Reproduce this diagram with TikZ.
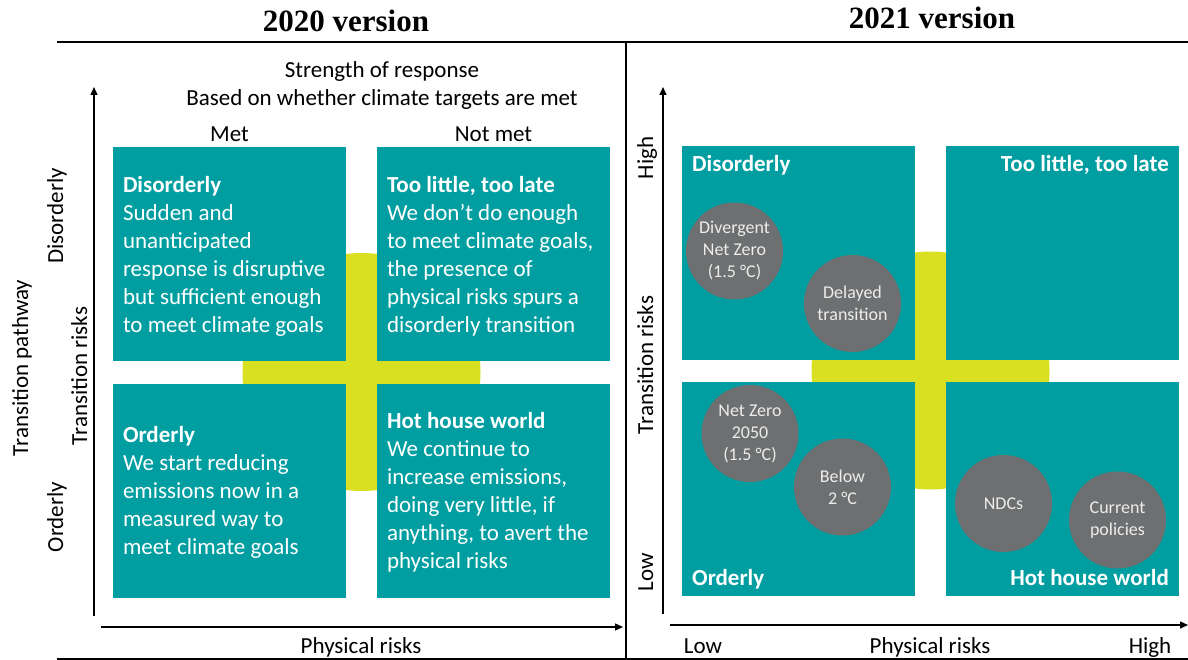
\documentclass[tikz,border=0pt]{standalone}
\usepackage{fontspec}
\setmainfont{Carlito}
\newfontfamily\titlefont{Liberation Serif}
\usetikzlibrary{arrows.meta,positioning}
\definecolor{quadteal}{RGB}{0,158,161}
\definecolor{crosslime}{RGB}{217,224,33}
\definecolor{scengrey}{RGB}{109,111,113}
\tikzset{%
  quad/.style     = {fill=quadteal, minimum width=233pt, minimum height=214pt,%
                     inner sep=0pt},%
  blob/.style     = {circle, fill=crosslime, minimum size=238pt, inner sep=0pt},%
  quadtext/.style = {text=white, align=left, anchor=west, inner sep=0pt, yshift=-2pt,%
                     font=\fontsize{23}{28}\selectfont},%
  corner/.style   = {text=white, inner sep=0pt, font=\fontsize{23}{28}\selectfont\bfseries},%
  scen/.style     = {circle, fill=scengrey, minimum size=97pt, inner sep=0pt,%
                     align=center, text=white!93!black, font=\fontsize{18}{22}\selectfont},%
  lbl/.style      = {inner sep=0pt, font=\fontsize{23}{28}\selectfont},%
  title/.style    = {inner sep=0pt, font=\titlefont\fontsize{31}{36}\selectfont\bfseries},%
  axis/.style     = {line width=1.4pt, -{Triangle[length=8pt,width=7pt]}},%
  rule/.style     = {line width=2pt}%
}
\begin{document}
\begin{tikzpicture}[x=1pt, y=-1pt]%
	\useasboundingbox (0,0) rectangle (1188,660);
	% frame
	\coordinate (tl) at (57,42);
	\coordinate (tr) at (1188,42);
	\coordinate (bl) at (57,659);
	\coordinate (br) at (1188,659);
	\coordinate (mt) at (626,42);
	\coordinate (mb) at (626,660);
	\draw[rule] (tl) -- (tr);
	\draw[rule] (bl) -- (br);
	\draw[line width=1.6pt] (mt) -- (mb);
	\node[title] (t20) at (346,21) {2020 version};
	\node[title] (t21) at (932,18) {2021 version};
	% 2020 version
	\node[blob] (x20) at (361.5,372) {};
	\node[quad] (dis20) at (229.5,254) {};
	\node[quad] (too20) at (493.5,254) {};
	\node[quad] (ord20) at (229.5,490.5) {};
	\node[quad] (hot20) at (493.5,490.5) {};
	\node[quadtext] at ([xshift=10pt]dis20.west) {\textbf{Disorderly}\\Sudden and\\unanticipated\\%
		response is disruptive\\but sufficient enough\\to meet climate goals};
	\node[quadtext] at ([xshift=10pt]too20.west) {\textbf{Too little, too late}\\We don’t do enough\\%
		to meet climate goals,\\the presence of\\physical risks spurs a\\disorderly transition};
	\node[quadtext] at ([xshift=10pt]ord20.west) {\textbf{Orderly}\\We start reducing\\%
		emissions now in a\\measured way to\\meet climate goals};
	\node[quadtext] at ([xshift=10pt]hot20.west) {\textbf{Hot house world}\\We continue to\\%
		increase emissions,\\doing very little, if\\anything, to avert the\\physical risks};
	\node[lbl, above=5pt of dis20] (met) {Met};
	\node[lbl, above=5pt of too20] (notmet) {Not met};
	\node[lbl, anchor=base] (str) at (382,78) {Strength of response};
	\node[lbl, anchor=base] (based) at (382,106) {Based on whether climate targets are met};
	\node[lbl, anchor=base, rotate=90] (path) at (28,368) {Transition pathway};
	\node[lbl, anchor=base, rotate=90] (ydis) at (63,216) {Disorderly};
	\node[lbl, anchor=base, rotate=90] (yord) at (63,517) {Orderly};
	\node[lbl, anchor=base, rotate=90] (ytr20) at (87,376) {Transition risks};
	\node[lbl, anchor=base] (xph20) at (361,653) {Physical risks};
	\coordinate (o20v) at (94,616);
	\coordinate (e20v) at (94,87);
	\coordinate (o20h) at (101,627);
	\coordinate (e20h) at (623,627);
	\draw[axis] (o20v) -- (e20v);
	\draw[axis] (o20h) -- (e20h);
	% 2021 version
	\node[blob] (x21) at (930.5,370.5) {};
	\node[quad] (dis21) at (798.5,253) {};
	\node[quad] (too21) at (1062.5,253) {};
	\node[quad] (ord21) at (798.5,489) {};
	\node[quad] (hot21) at (1062.5,489) {};
	\node[corner, anchor=base west] (cdis) at (692,172) {Disorderly};
	\node[corner, anchor=base east] (ctoo) at (1169,172) {Too little, too late};
	\node[corner, anchor=base west] (cord) at (692,585) {Orderly};
	\node[corner, anchor=base east] (chot) at (1169,585) {Hot house world};
	\node[scen] (dnz) at (734.5,251) {Divergent\\Net Zero\\(1.5 °C)};
	\node[scen] (del) at (852.5,303.5) {Delayed\\transition};
	\node[scen] (nz) at (750,433.5) {Net Zero\\2050\\(1.5 °C)};
	\node[scen] (b2) at (842.5,487) {Below\\2 °C};
	\node[scen] (ndc) at (1003.5,503.5) {NDCs};
	\node[scen] (cur) at (1117.5,520) {Current\\policies};
	\node[lbl, anchor=base, rotate=90] (yhi) at (653,158) {High};
	\node[lbl, anchor=base, rotate=90] (ytr21) at (653,365) {Transition risks};
	\node[lbl, anchor=base, rotate=90] (ylo) at (653,572) {Low};
	\node[lbl, anchor=base] (xlo) at (703,653) {Low};
	\node[lbl, anchor=base] (xph21) at (930,653) {Physical risks};
	\node[lbl, anchor=base] (xhi) at (1150,653) {High};
	\coordinate (o21v) at (663,614);
	\coordinate (e21v) at (663,87);
	\coordinate (o21h) at (670,625);
	\coordinate (e21h) at (1188,625);
	\draw[axis] (o21v) -- (e21v);
	\draw[axis] (o21h) -- (e21h);
\end{tikzpicture}
\end{document}
